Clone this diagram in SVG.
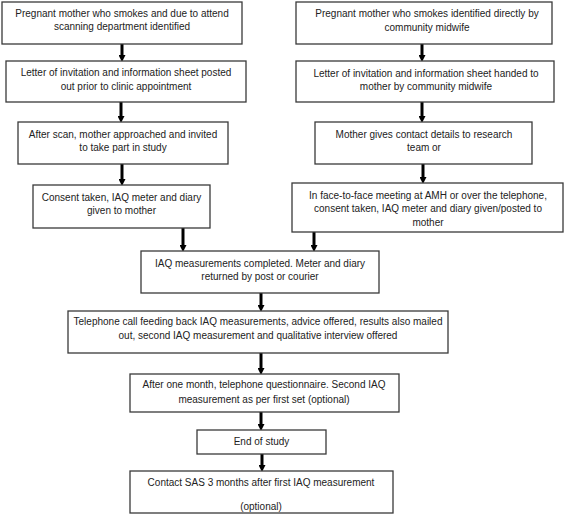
<svg xmlns="http://www.w3.org/2000/svg" width="567" height="516" viewBox="0 0 567 516">
<defs>
<style>
.box{fill:#fff;stroke:#3a3a3a;stroke-width:1.3}
.t{font-family:"Liberation Sans",Arial,sans-serif;font-size:10px;fill:#222;text-anchor:middle}
.c{stroke:#000;stroke-width:3;fill:none}
</style>
<marker id="ah" markerUnits="userSpaceOnUse" markerWidth="8" markerHeight="7" refX="0" refY="3.5" orient="auto">
<path d="M0,0 L7,3.5 L0,7 Z" fill="#000"/>
</marker>
</defs>
<rect width="567" height="516" fill="#fff"/>
<g id="connectors">
<path class="c" d="M122,44 V55" marker-end="url(#ah)"/>
<path class="c" d="M121,102 V116" marker-end="url(#ah)"/>
<path class="c" d="M122,164 V179" marker-end="url(#ah)"/>
<path class="c" d="M183,228 V245" marker-end="url(#ah)"/>
<path class="c" d="M422,44 V55" marker-end="url(#ah)"/>
<path class="c" d="M422,102 V116" marker-end="url(#ah)"/>
<path class="c" d="M423,164 V177" marker-end="url(#ah)"/>
<path class="c" d="M314,232 V245" marker-end="url(#ah)"/>
<path class="c" d="M261,293 V305" marker-end="url(#ah)"/>
<path class="c" d="M261,353 V368" marker-end="url(#ah)"/>
<path class="c" d="M261,412 V424" marker-end="url(#ah)"/>
<path class="c" d="M262,454 V465" marker-end="url(#ah)"/>
</g>
<g id="n1"><rect class="box" x="2" y="2" width="240" height="42"/>
<text class="t" x="122" y="16.5">Pregnant mother who smokes and due to attend</text>
<text class="t" x="122" y="29.5">scanning department identified</text></g>
<g id="n2"><rect class="box" x="6" y="61" width="240" height="41"/>
<text class="t" x="126" y="76">Letter of invitation and information sheet posted</text>
<text class="t" x="126" y="89.5">out prior to clinic appointment</text></g>
<g id="n3"><rect class="box" x="18" y="122" width="210" height="42"/>
<text class="t" x="123" y="138">After scan, mother approached and invited</text>
<text class="t" x="123" y="151">to take part in study</text></g>
<g id="n4"><rect class="box" x="33" y="185" width="177" height="43"/>
<text class="t" x="121.5" y="200.5">Consent taken, IAQ meter and diary</text>
<text class="t" x="121.5" y="214">given to mother</text></g>
<g id="n5"><rect class="box" x="296" y="2" width="256" height="42"/>
<text class="t" x="427" y="17">Pregnant mother who smokes identified directly by</text>
<text class="t" x="427" y="30.5">community midwife</text></g>
<g id="n6"><rect class="box" x="296" y="61" width="258" height="41"/>
<text class="t" x="426" y="76.5">Letter of invitation and information sheet handed to</text>
<text class="t" x="426" y="90">mother by community midwife</text></g>
<g id="n7"><rect class="box" x="315" y="122" width="217" height="42"/>
<text class="t" x="424" y="138">Mother gives contact details to research</text>
<text class="t" x="424" y="151">team or</text></g>
<g id="n8"><rect class="box" x="292" y="183" width="271" height="49"/>
<text class="t" x="428" y="198.5">In face-to-face meeting at AMH or over the telephone,</text>
<text class="t" x="428" y="212">consent taken, IAQ meter and diary given/posted to</text>
<text class="t" x="428" y="225.5">mother</text></g>
<g id="n9"><rect class="box" x="141" y="251" width="238" height="42"/>
<text class="t" x="260" y="266.5">IAQ measurements completed.  Meter and diary</text>
<text class="t" x="260" y="280">returned by post or courier</text></g>
<g id="n10"><rect class="box" x="68" y="311" width="380" height="42"/>
<text class="t" x="258" y="325">Telephone call feeding back IAQ measurements, advice offered, results also mailed</text>
<text class="t" x="258" y="338.5">out, second IAQ measurement and qualitative interview offered</text></g>
<g id="n11"><rect class="box" x="130" y="374" width="269" height="38"/>
<text class="t" x="264" y="388">After one month, telephone questionnaire. Second IAQ</text>
<text class="t" x="264" y="402.5">measurement as per first set (optional)</text></g>
<g id="n12"><rect class="box" x="197" y="430" width="129" height="24"/>
<text class="t" x="261.5" y="444.5">End of study</text></g>
<g id="n13"><rect class="box" x="130" y="471" width="263" height="42"/>
<text class="t" x="261" y="486">Contact SAS 3 months after first IAQ measurement</text>
<text class="t" x="261" y="510">(optional)</text></g>
</svg>
